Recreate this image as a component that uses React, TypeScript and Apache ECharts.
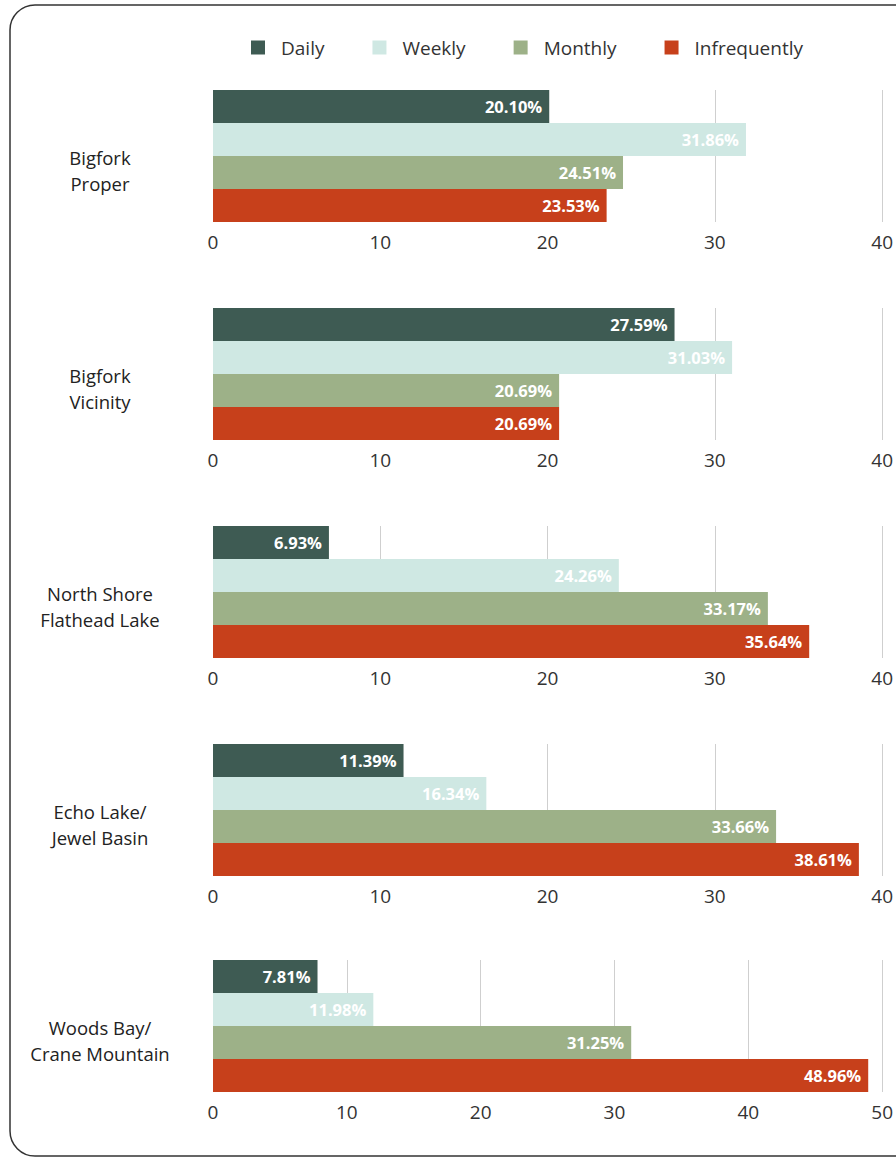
import React, { useEffect, useRef } from "react";
import * as echarts from "echarts";

const categories = [
  "Bigfork\nProper",
  "Bigfork\nVicinity",
  "North Shore\nFlathead Lake",
  "Echo Lake/\nJewel Basin",
  "Woods Bay/\nCrane Mountain",
];
const seriesNames = ["Daily", "Weekly", "Monthly", "Infrequently"];
const daily = [20.1, 27.59, 6.93, 11.39, 7.81];
const weekly = [31.86, 31.03, 24.26, 16.34, 11.98];
const monthly = [24.51, 20.69, 33.17, 33.66, 31.25];
const infrequently = [23.53, 20.69, 35.64, 38.61, 48.96];
const axisMax = [40, 40, 40, 40, 50];
const tickInterval = 10;

const colors = ["#3e5b53", "#cfe8e3", "#9db188", "#c7401b"];
const panelTops = [90, 308, 526, 744, 960];
const panelHeight = 132;
const FONT = "'Open Sans', sans-serif";

export default function App() {
  const ref = useRef<HTMLDivElement>(null);
  useEffect(() => {
    if (!ref.current) return;
    const chart = echarts.init(ref.current, null, { renderer: "svg" });
    const allData = [daily, weekly, monthly, infrequently];
    const grids = categories.map((_, i) => ({
      left: 213,
      right: 12,
      top: panelTops[i],
      height: panelHeight,
      containLabel: false,
    }));
    const xAxes = categories.map((_, i) => ({
      type: "value",
      gridIndex: i,
      min: 0,
      max: axisMax[i],
      interval: tickInterval,
      axisLine: { show: false },
      axisTick: { show: false },
      splitLine: { show: true, lineStyle: { color: "#cfcfcf", width: 1 } },
      axisLabel: {
        color: "#333",
        fontSize: 19,
        fontFamily: FONT,
        margin: 10,
      },
    }));
    const yAxes = categories.map((c, i) => ({
      type: "category",
      gridIndex: i,
      data: [c],
      inverse: true,
      axisLine: { show: false },
      axisTick: { show: false },
      axisLabel: {
        align: "center",
        margin: 113,
        formatter: (v: string) =>
          "{pad|}\n" + v.split("\n").map((l) => "{t|" + l + "}").join("\n"),
        rich: {
          pad: { height: 28, lineHeight: 28, fontSize: 1 },
          t: {
            color: "#222",
            fontSize: 18.5,
            fontFamily: FONT,
            lineHeight: 26,
            align: "center",
          },
        },
      },
    }));
    const series: any[] = [];
    categories.forEach((_, i) => {
      seriesNames.forEach((name, s) => {
        series.push({
          type: "bar",
          name,
          xAxisIndex: i,
          yAxisIndex: i,
          data: [allData[s][i]],
          barGap: "0%",
          barCategoryGap: "0%",
          itemStyle: { color: colors[s] },
          label: {
            show: true,
            position: "insideRight",
            distance: 7,
            color: "#fff",
            fontWeight: "bold",
            fontSize: 16.5,
            fontFamily: FONT,
            formatter: (p: any) => p.value.toFixed(2) + "%",
          },
        });
      });
    });
    chart.setOption({
      animation: false,
      backgroundColor: "#fff",
      color: colors,
      legend: {
        data: seriesNames,
        top: 33,
        left: 246,
        itemWidth: 14,
        itemHeight: 14,
        itemGap: 48,
        icon: "rect",
        textStyle: {
          color: "#333",
          fontSize: 19,
          fontFamily: FONT,
          padding: [0, 0, 0, 11],
        },
      },
      grid: grids,
      xAxis: xAxes,
      yAxis: yAxes,
      series,
      graphic: [
        {
          type: "rect",
          shape: { x: 10, y: 5, width: 920, height: 1151, r: 25 },
          style: { fill: "none", stroke: "#333", lineWidth: 1.5 },
          silent: true,
          z: 100,
        },
      ],
    });
    return () => chart.dispose();
  }, []);
  return (
    <div
      ref={ref}
      style={{ position: "absolute", left: 0, top: 0, width: 896, height: 1159 }}
    />
  );
}
